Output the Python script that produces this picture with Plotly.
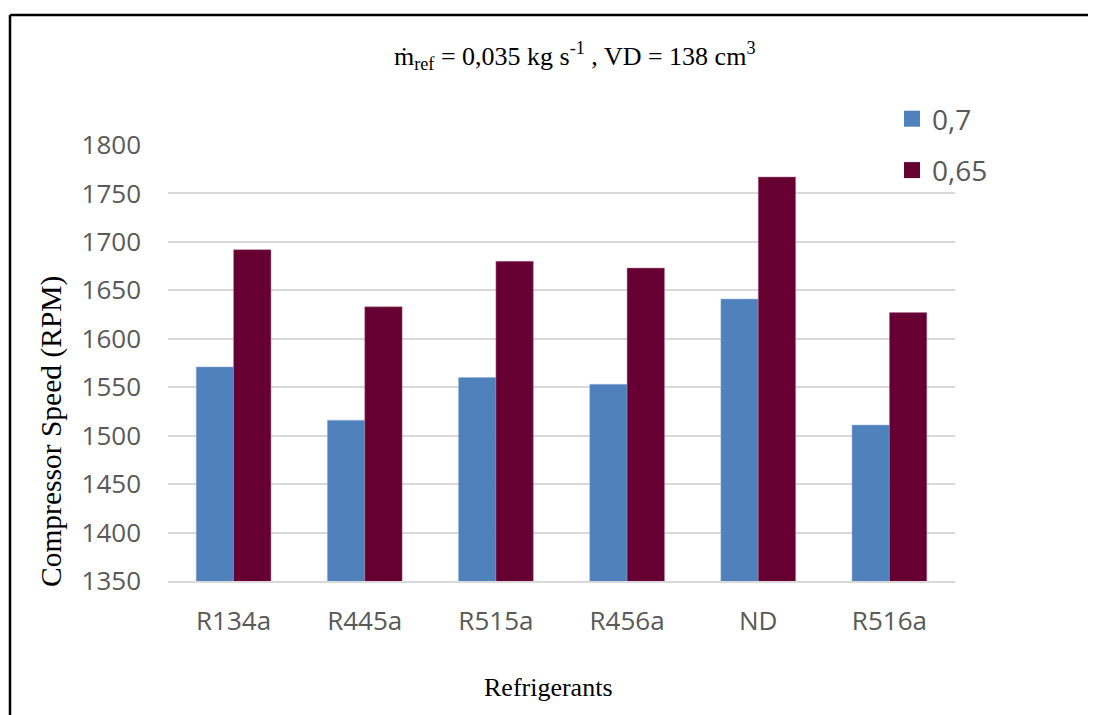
import plotly.graph_objects as go

categories = ["R134a", "R445a", "R515a", "R456a", "ND", "R516a"]
series_names = ["0,7", "0,65"]
values_07 = [1571, 1516, 1560, 1553, 1641, 1511]
values_065 = [1692, 1633, 1680, 1673, 1767, 1627]
y_ticks = [1350, 1400, 1450, 1500, 1550, 1600, 1650, 1700, 1750, 1800]
colors = ["#4F81BD", "#660033"]

OFF = 8  # default page body margin
W, H = 1096 - OFF, 715 - OFF
# plot area in screen pixels
X0, X1, Y0, Y1 = 168, 955, 145, 581
L, R = X0 - OFF, (W + OFF) - X1
T, B = Y0 - OFF, (H + OFF) - Y1
pw, ph = X1 - X0, Y1 - Y0


def px(x):
    return (x - X0) / pw


def py(y):
    return (Y1 - y) / ph


fig = go.Figure()
fig.add_bar(x=categories, y=values_07, name=series_names[0], showlegend=False,
            marker=dict(color=colors[0], line=dict(color="#9db5d6", width=0.5)))
fig.add_bar(x=categories, y=values_065, name=series_names[1], showlegend=False,
            marker=dict(color=colors[1], line=dict(color="#b07a93", width=0.5)))
# legend entries with larger square swatches
for i, (nm, c) in enumerate(zip(series_names, colors)):
    fig.add_scatter(x=[None], y=[None], mode="markers", name=nm, legendgroup=nm,
                    marker=dict(symbol="square", size=18, color=c))

tick_font = dict(family="Open Sans", size=26, color="#595959")
serif = "Liberation Serif"

fig.update_layout(
    width=W, height=H,
    margin=dict(l=L, r=R, t=T, b=B),
    paper_bgcolor="white", plot_bgcolor="white",
    barmode="group", bargap=0.43, bargroupgap=0,
    showlegend=True,
    legend=dict(x=px(892), y=py(94), xanchor="left", yanchor="top",
                font=dict(family="Open Sans", size=28, color="#595959"),
                bgcolor="rgba(0,0,0,0)", tracegroupgap=12, itemsizing="trace",
                itemwidth=30),
    xaxis=dict(showgrid=False, showline=True, linecolor="#d9d9d9", linewidth=1.5,
               tickfont=tick_font, ticks="", ticklabelstandoff=16),
    yaxis=dict(range=[1350, 1800], tickvals=y_ticks, showgrid=True,
               gridcolor="#d9d9d9", gridwidth=1.5, zeroline=False, showline=False,
               tickfont=tick_font, ticks="", ticklabelstandoff=26),
    font=dict(family="Open Sans"),
)

fig.add_annotation(
    text="m\u0307<sub>ref</sub> = 0,035 kg s<sup>-1</sup> , VD = 138 cm<sup>3</sup>",
    x=px(574), y=py(56), xref="paper", yref="paper", showarrow=False,
    xanchor="center", yanchor="middle",
    font=dict(family=serif, size=26, color="black"))
fig.add_annotation(
    text="Refrigerants", x=px(548), y=py(687), xref="paper", yref="paper",
    showarrow=False, xanchor="center", yanchor="middle",
    font=dict(family=serif, size=26, color="black"))
fig.add_annotation(
    text="Compressor Speed (RPM)", x=px(51), y=py(432), xref="paper", yref="paper",
    showarrow=False, textangle=-90, xanchor="center", yanchor="middle",
    font=dict(family=serif, size=29.5, color="black"))

# outer frame (only top and left edges visible in the reference)
fig.add_shape(type="line", xref="paper", yref="paper", x0=px(10), x1=px(1130),
              y0=py(15), y1=py(15), line=dict(color="black", width=2.5))
fig.add_shape(type="line", xref="paper", yref="paper", x0=px(10), x1=px(10),
              y0=py(15), y1=py(760), line=dict(color="black", width=2.5))

fig.write_html("out.html")
